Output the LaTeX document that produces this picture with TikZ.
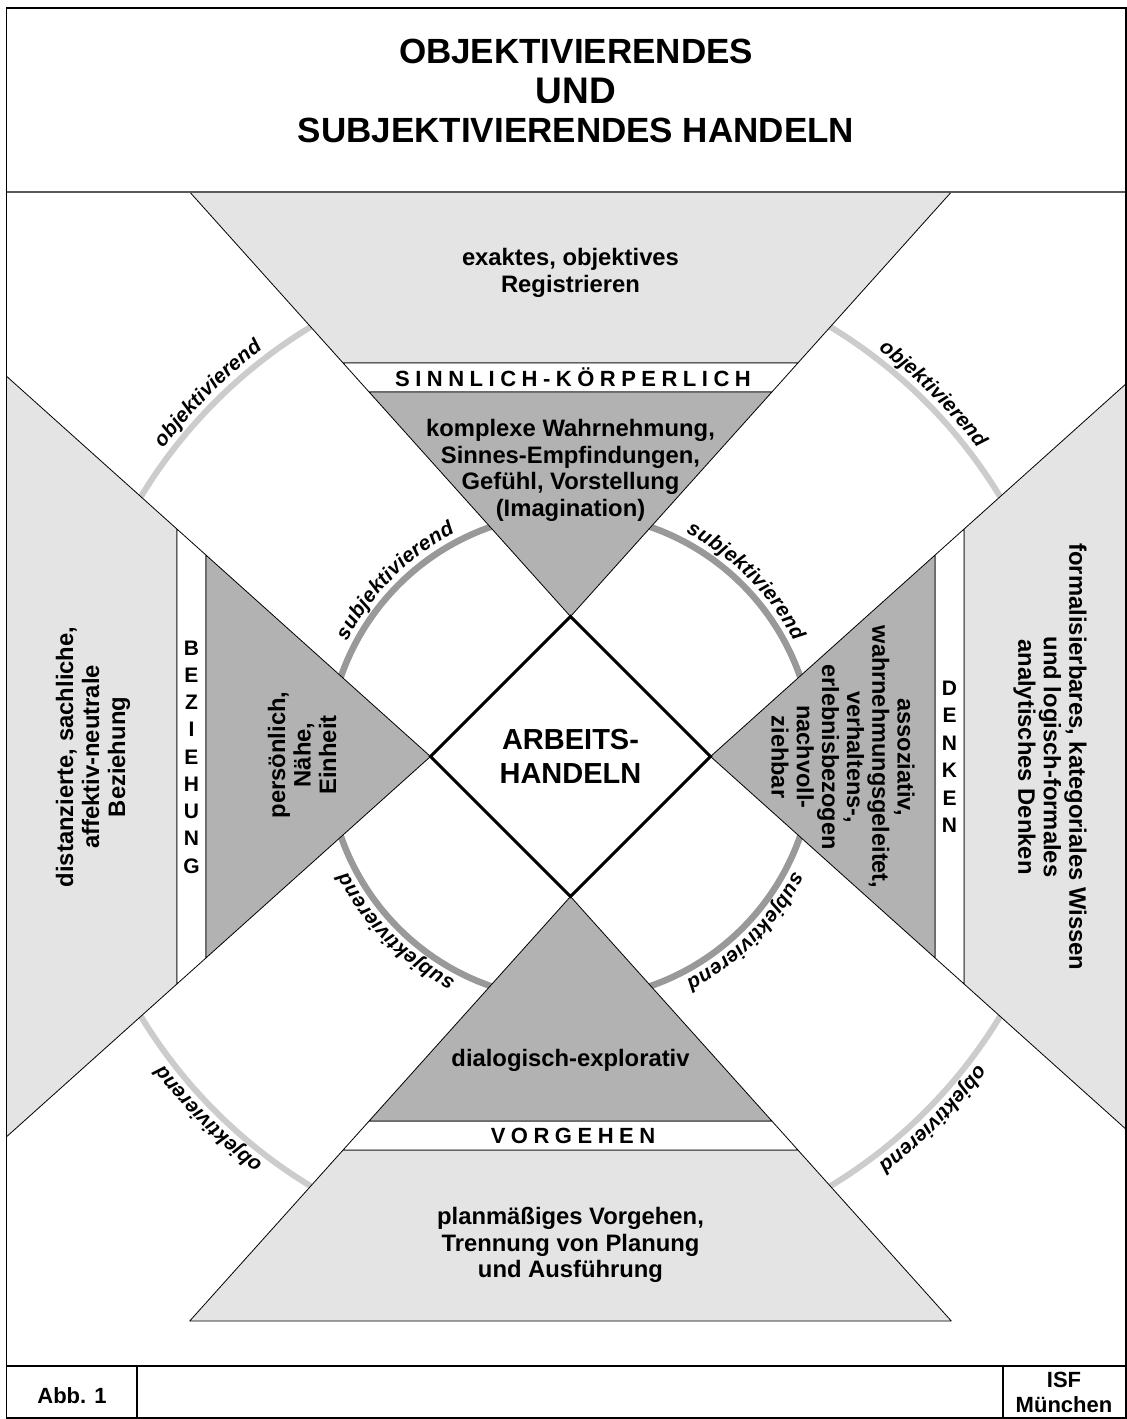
\documentclass[tikz,border=0pt]{standalone}
\usepackage{fontspec}
\setmainfont{Liberation Sans}
\newfontfamily\spacedfont[LetterSpace=25]{Liberation Sans}
\usetikzlibrary{decorations.text}
\definecolor{lightp}{HTML}{E4E4E4}
\definecolor{darkp}{HTML}{B2B2B2}
\definecolor{outarc}{HTML}{CCCCCC}
\definecolor{inarc}{HTML}{999999}
\newcommand\arcfont{\fontsize{20.5}{21}\selectfont\bfseries\itshape}
\begin{document}
\begin{tikzpicture}[x=1pt,y=1pt,
  wedgeline/.style={draw=black, line width=0.8pt, line join=round},
  lightpanel/.style={wedgeline, fill=lightp},
  bandpanel/.style={wedgeline, fill=white},
  darkpanel/.style={wedgeline, fill=darkp},
  txt/.style={font=\fontsize{23.8}{26.7}\selectfont\bfseries, align=center, inner sep=0pt},
  txttight/.style={font=\fontsize{23.5}{25.2}\selectfont\bfseries, align=center, inner sep=0pt},
  spaced/.style={font=\spacedfont\fontsize{22}{24}\selectfont\bfseries, inner sep=0pt, anchor=base},
  vletter/.style={font=\fontsize{21}{22}\selectfont\bfseries, inner sep=0pt},
  titletxt/.style={font=\fontsize{35}{40}\selectfont\bfseries, inner sep=0pt, anchor=base},
  foot/.style={font=\fontsize{22}{25}\selectfont\bfseries, align=center, inner sep=0pt},
  arclabel/.style={decorate, decoration={text along path, text align=center, raise=8.5pt, text={|\arcfont|#1}}}
]
\useasboundingbox (0,0) rectangle (1127,-1419);
\fill[white] (0,0) rectangle (1127,-1419);

% key points
\coordinate (C) at (570.5,-756.5);
\coordinate (T) at (570.5,-616.5);
\coordinate (B) at (570.5,-896.5);
\coordinate (L) at (430.5,-756.5);
\coordinate (R) at (710.5,-756.5);

% circles (covered by the wedges where they pass through them)
\draw[outarc, line width=6pt] (C) circle[radius=502];
\draw[inarc, line width=6.5pt] (C) circle[radius=243];

% top wedge
\path[lightpanel] (189.7,-192) -- (951.3,-192) -- (797.9,-363) -- (343.1,-363) -- cycle;
\path[bandpanel] (343.1,-363) -- (797.9,-363) -- (771.9,-392) -- (369.1,-392) -- cycle;
\path[darkpanel] (369.1,-392) -- (771.9,-392) -- (T) -- cycle;

% bottom wedge
\path[lightpanel] (189.7,-1321) -- (951.3,-1321) -- (797.9,-1150) -- (343.1,-1150) -- cycle;
\path[bandpanel] (343.1,-1150) -- (797.9,-1150) -- (771.9,-1121) -- (369.1,-1121) -- cycle;
\path[darkpanel] (369.1,-1121) -- (771.9,-1121) -- (B) -- cycle;

% left wedge
\path[lightpanel] (6.5,-376.2) -- (177,-529.1) -- (177,-983.9) -- (6.5,-1136.8) -- cycle;
\path[bandpanel] (177,-529.1) -- (206,-555.1) -- (206,-957.9) -- (177,-983.9) -- cycle;
\path[darkpanel] (206,-555.1) -- (L) -- (206,-957.9) -- cycle;

% right wedge
\path[lightpanel] (1126,-383.8) -- (964,-529.1) -- (964,-983.9) -- (1126,-1129.2) -- cycle;
\path[bandpanel] (964,-529.1) -- (935,-555.1) -- (935,-957.9) -- (964,-983.9) -- cycle;
\path[darkpanel] (935,-555.1) -- (R) -- (935,-957.9) -- cycle;

% centre diamond
\draw[line width=3pt, fill=white] (T) -- (R) -- (B) -- (L) -- cycle;
\node[font=\fontsize{29}{34}\selectfont\bfseries, align=center, inner sep=0pt] (work) at (C) {ARBEITS-\\HANDELN};

% top texts
\node[txt] (toplight) at (570.5,-273) {exaktes, objektives\\Registrieren};
\node[spaced] (topband) at (573,-386) {SINNLICH-KÖRPERLICH};
\node[txt] (topdark) at (570.5,-470.5) {komplexe Wahrnehmung,\\Sinnes-Empfindungen,\\Gefühl, Vorstellung\\(Imagination)};

% bottom texts
\node[txt] (botdark) at (570.5,-1060) {dialogisch-explorativ};
\node[spaced] (botband) at (573,-1143) {VORGEHEN};
\node[txt] (botlight) at (570.5,-1245) {planmäßiges Vorgehen,\\Trennung von Planung\\und Ausführung};

% left texts
\node[txt, rotate=90, font=\fontsize{23.8}{26}\selectfont\bfseries] (leftlight) at (93,-757) {distanzierte, sachliche,\\affektiv-neutrale\\Beziehung};
\node[txt, rotate=90, font=\fontsize{23.8}{25.5}\selectfont\bfseries] (leftdark) at (302,-755) {persönlich,\\Nähe,\\Einheit};
\foreach \l [count=\i from 0] in {B,E,Z,I,E,H,U,N,G}
  \node[vletter] (bz\i) at (191.5,{-648-27.25*\i}) {\l};

% right texts
\node[txttight, rotate=-90] (rightdark) at (843,-757) {assoziativ,\\wahrnehmungsgeleitet,\\verhaltens-,\\erlebnisbezogen\\nachvoll-\\ziehbar};
\node[txt, rotate=-90, font=\fontsize{23.8}{25.5}\selectfont\bfseries] (rightlight) at (1050,-757) {formalisierbares, kategoriales Wissen\\und logisch-formales\\analytisches Denken};
\foreach \l [count=\i from 0] in {D,E,N,K,E,N}
  \node[vletter] (dk\i) at (949.5,{-688.25-27.5*\i}) {\l};

% arc labels
\foreach \a in {135,45,-45,-135}{
  \path[arclabel=objektivierend] (C) ++(\a+30:502) arc[start angle=\a+30, end angle=\a-30, radius=502];
  \path[arclabel=subjektivierend] (C) ++(\a+35:243) arc[start angle=\a+35, end angle=\a-35, radius=243];
}

% frame, title and footer
\draw[black!65, line width=2.2pt] (6.5,-192) -- (1126,-192);
\draw[line width=1.5pt] (6.5,-8) rectangle (1126,-1418);
\draw[line width=2pt] (6.5,-1366) -- (1126,-1366);
\draw[line width=1.5pt] (137,-1366) -- (137,-1418);
\draw[line width=1.5pt] (1003,-1366) -- (1003,-1418);

\node[titletxt] (title1) at (576,-63) {OBJEKTIVIERENDES};
\node[titletxt, font=\fontsize{37}{40}\selectfont\bfseries] (title2) at (576,-103) {UND};
\node[titletxt] (title3) at (576,-142) {SUBJEKTIVIERENDES HANDELN};

\node[foot, anchor=base] (abb) at (72,-1403) {Abb. 1};
\node[foot, anchor=base] (isf) at (1064,-1387) {ISF};
\node[foot, anchor=base] (muc) at (1064,-1412) {München};
\end{tikzpicture}
\end{document}
